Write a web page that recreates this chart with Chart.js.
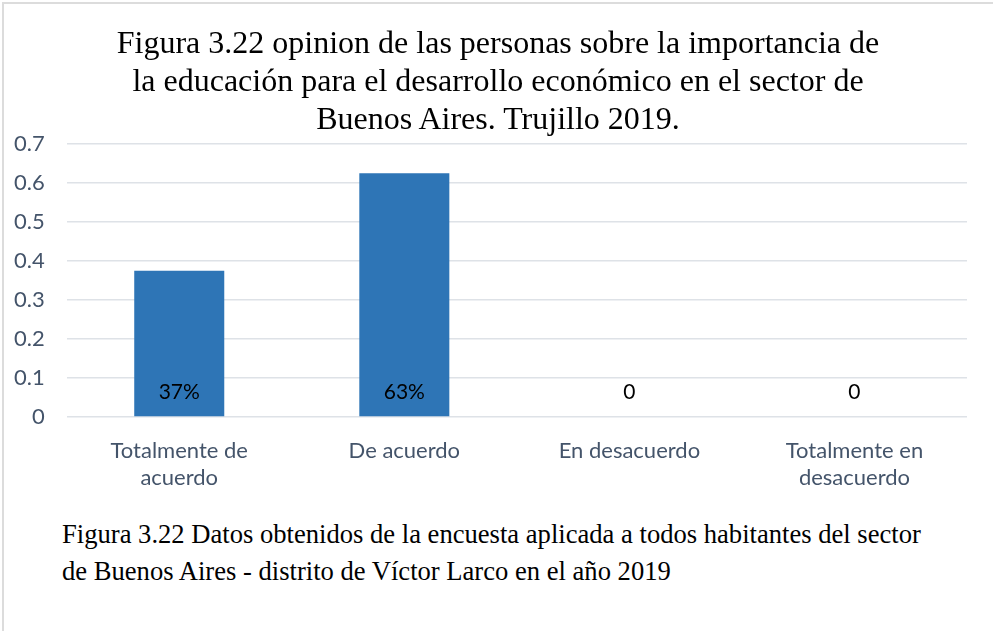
<!DOCTYPE html>
<html>
<head>
<meta charset="utf-8">
<script src="https://cdn.jsdelivr.net/npm/chart.js@4/dist/chart.umd.min.js"></script>
<style>
  html, body { margin: 0; padding: 0; background: #fff; }
  #wrap { position: relative; width: 993px; height: 631px; overflow: hidden; }
  #marco {
    position: absolute; left: 2px; top: 2px; right: -10px; bottom: -10px;
    border-top: 2px solid #dcdcdc; border-left: 2px solid #dcdcdc;
  }
  #grafico { position: absolute; left: 0; top: 0; }
  #titulo {
    position: absolute; left: 0; top: 23px; width: 996px; margin: 0; text-align: center;
    font-family: 'Liberation Serif', 'Times New Roman', serif; font-size: 32px; font-weight: normal;
    line-height: 38px; color: #000;
  }
  #nota {
    position: absolute; left: 62px; top: 516px; margin: 0;
    font-family: 'Liberation Serif', 'Times New Roman', serif; font-size: 26.6px;
    line-height: 37px; color: #000; white-space: nowrap;
  }
</style>
</head>
<body>
<div id="wrap">
  <div id="marco"></div>
  <canvas id="grafico" width="993" height="503"></canvas>
  <h1 id="titulo"></h1>
  <p id="nota">Figura 3.22 Datos obtenidos de la encuesta aplicada a todos habitantes del sector<br>de Buenos Aires - distrito de Víctor Larco en el año 2019</p>
</div>
<script>
// Datos
const categorias = [['Totalmente de', 'acuerdo'], 'De acuerdo', 'En desacuerdo', ['Totalmente en', 'desacuerdo']];
const valores = [0.375, 0.625, 0, 0];
const etiquetas = ['37%', '63%', '0', '0'];
const titulo = [
  'Figura 3.22 opinion de las personas sobre la importancia de',
  'la educación para el desarrollo económico en el sector de',
  'Buenos Aires. Trujillo 2019.'
];

// título como texto real
const tituloEl = document.getElementById('titulo');
titulo.forEach((linea, i) => {
  if (i > 0) tituloEl.appendChild(document.createElement('br'));
  tituloEl.appendChild(document.createTextNode(linea));
});

// etiquetas de datos cerca de la base de la barra
const etiquetasPlugin = {
  id: 'etiquetas',
  afterDatasetsDraw(chart) {
    const ctx = chart.ctx;
    const meta = chart.getDatasetMeta(0);
    const y0 = chart.scales.y.getPixelForValue(0);
    ctx.save();
    ctx.font = "21px Lato, 'Open Sans', sans-serif";
    ctx.fillStyle = '#000';
    ctx.textAlign = 'center';
    ctx.textBaseline = 'middle';
    meta.data.forEach((bar, i) => {
      ctx.fillText(etiquetas[i], bar.x, y0 - 25);
    });
    ctx.restore();
  }
};

new Chart(document.getElementById('grafico').getContext('2d'), {
  type: 'bar',
  data: {
    labels: categorias,
    datasets: [{
      data: valores,
      backgroundColor: '#2e75b6',
      barPercentage: 0.4,
      categoryPercentage: 1.0
    }]
  },
  options: {
    responsive: false,
    animation: false,
    layout: { padding: { left: 14, right: 26, top: 144, bottom: 0 } },
    plugins: {
      legend: { display: false },
      tooltip: { enabled: false },
      title: { display: false }
    },
    scales: {
      x: {
        grid: { display: false },
        border: { display: false },
        ticks: { color: '#44546a', font: { family: "Lato, 'Open Sans', sans-serif", size: 22, lineHeight: 1.23 }, padding: 12, maxRotation: 0 },
        // sin margen extra para la primera/última etiqueta
        afterFit: (s) => { s.paddingLeft = 0; s.paddingRight = 0; }
      },
      y: {
        min: 0, max: 0.7,
        ticks: { stepSize: 0.1, color: '#44546a', font: { family: "Lato, 'Open Sans', sans-serif", size: 22 }, padding: 22 },
        grid: { color: '#dee2e7', lineWidth: 1.5, drawTicks: false },
        border: { display: false },
        // el padding solo entre etiqueta y rejilla
        afterFit: (s) => { s.width -= s.options.ticks.padding; }
      }
    }
  },
  plugins: [etiquetasPlugin]
});
</script>
</body>
</html>
